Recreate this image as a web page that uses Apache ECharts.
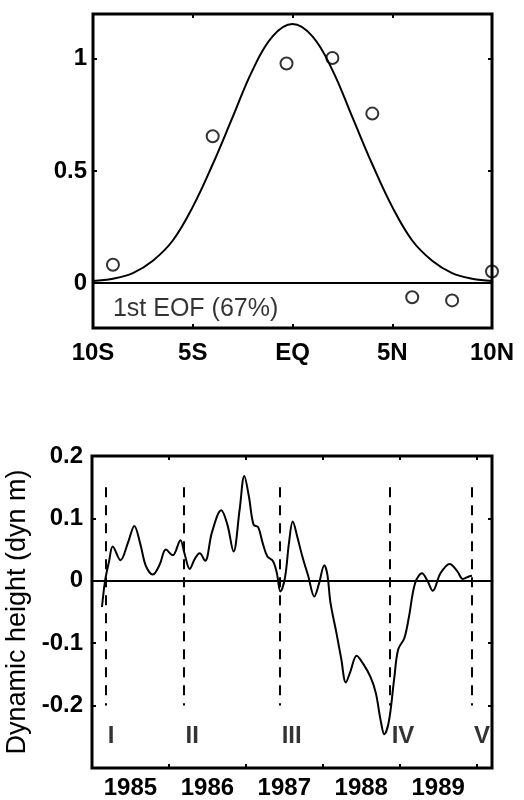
<!DOCTYPE html>
<html>
<head>
<meta charset="utf-8">
<script src="https://cdn.jsdelivr.net/npm/echarts@6/dist/echarts.min.js"></script>
<style>
  html, body { margin: 0; padding: 0; background: #fff; }
  #chart { width: 524px; height: 800px; }
</style>
</head>
<body>
<div id="chart"></div>
<script>
// top panel: meridional structure of the 1st EOF
const latTicks = [-10, -5, 0, 5, 10];
const latTickLabels = ['10S', '5S', 'EQ', '5N', '10N'];
const fitLat = [-10, -9, -8, -7, -6, -5, -4, -3, -2, -1, 0, 1, 2, 3, 4, 5, 6, 7, 8, 9, 10];
const fitEof = [0.01, 0.02, 0.045, 0.1, 0.19, 0.34, 0.53, 0.74, 0.95, 1.1, 1.155, 1.1, 0.95, 0.74, 0.53, 0.34, 0.19, 0.1, 0.045, 0.02, 0.01];
const stationLat = [-9, -4, -0.3, 2, 4, 6, 8, 10];
const stationEof = [0.082, 0.655, 0.979, 1.004, 0.756, -0.063, -0.077, 0.052];
const eofNote = '1st EOF (67%)';

// bottom panel: dynamic height time series
const years = [1985.13, 1985.17, 1985.22, 1985.27, 1985.37, 1985.47, 1985.55, 1985.63, 1985.70, 1985.79,
  1985.88, 1985.96, 1986.05, 1986.15, 1986.20, 1986.27, 1986.34, 1986.40, 1986.47, 1986.56,
  1986.68, 1986.76, 1986.84, 1986.92, 1986.98, 1987.04, 1987.10, 1987.16, 1987.22, 1987.28,
  1987.35, 1987.40, 1987.45, 1987.51, 1987.56, 1987.61, 1987.67, 1987.73, 1987.81, 1987.89,
  1987.95, 1988.02, 1988.06, 1988.10, 1988.18, 1988.24, 1988.30, 1988.36, 1988.44, 1988.52,
  1988.62, 1988.69, 1988.75, 1988.80, 1988.86, 1988.93, 1988.98, 1989.06, 1989.12, 1989.20,
  1989.29, 1989.36, 1989.43, 1989.53, 1989.65, 1989.75, 1989.82, 1989.90, 1989.94];
const dynHeight = [-0.042, 0.000, 0.030, 0.055, 0.033, 0.062, 0.088, 0.058, 0.024, 0.010,
  0.026, 0.050, 0.041, 0.065, 0.045, 0.019, 0.036, 0.044, 0.032, 0.078,
  0.113, 0.090, 0.047, 0.115, 0.168, 0.135, 0.090, 0.086, 0.060, 0.039,
  0.032, 0.014, -0.017, 0.006, 0.060, 0.095, 0.070, 0.041, 0.008, -0.025,
  -0.005, 0.025, 0.010, -0.035, -0.085, -0.125, -0.163, -0.145, -0.120, -0.132,
  -0.154, -0.180, -0.222, -0.246, -0.225, -0.155, -0.110, -0.092, -0.058, -0.004,
  0.012, 0.000, -0.016, 0.012, 0.027, 0.015, 0.003, 0.007, 0.008];
const eventYears = [1985.18, 1986.19, 1987.44, 1988.87, 1989.94];
const eventNames = ['I', 'II', 'III', 'IV', 'V'];
const yearTicks = [1986, 1987, 1988, 1989, 1990];
const yearLabelAt = [1985.5, 1986.5, 1987.5, 1988.5, 1989.5];
const dynTicks = [-0.2, -0.1, 0, 0.1, 0.2];

const FONT = 'Liberation Sans';
const tickLabel = { color: '#000', fontFamily: FONT, fontWeight: 'bold', fontSize: 24 };
const smallTick = { show: true, inside: true, length: 4, lineStyle: { color: '#000', width: 2 } };
const noLine = { show: false, onZero: false };

const chart = echarts.init(document.getElementById('chart'));

chart.setOption({
  animation: false,
  grid: [
    { left: 93, right: 32, top: 14, height: 314, show: true, borderColor: '#000', borderWidth: 3, outerBoundsMode: 'none' },
    { left: 92, right: 32, top: 456, height: 312, show: true, borderColor: '#000', borderWidth: 3, outerBoundsMode: 'none' }
  ],
  xAxis: [
    {
      gridIndex: 0, type: 'value', min: -10, max: 10, position: 'bottom',
      axisLine: noLine, splitLine: { show: false },
      axisTick: Object.assign({ customValues: [-5, 0, 5] }, smallTick),
      axisLabel: Object.assign({
        customValues: latTicks, margin: 13,
        formatter: v => latTickLabels[latTicks.indexOf(v)]
      }, tickLabel)
    },
    {
      gridIndex: 0, type: 'value', min: -10, max: 10, position: 'top',
      axisLine: noLine, splitLine: { show: false }, axisLabel: { show: false },
      axisTick: Object.assign({ customValues: [-5, 0, 5] }, smallTick)
    },
    {
      gridIndex: 1, type: 'value', min: 1985, max: 1990.2, position: 'bottom',
      axisLine: noLine, splitLine: { show: false },
      axisTick: Object.assign({ customValues: yearTicks }, smallTick),
      axisLabel: Object.assign({
        customValues: yearLabelAt, margin: 8,
        formatter: v => String(Math.floor(v))
      }, tickLabel)
    },
    {
      gridIndex: 1, type: 'value', min: 1985, max: 1990.2, position: 'top',
      axisLine: noLine, splitLine: { show: false }, axisLabel: { show: false },
      axisTick: Object.assign({ customValues: yearTicks }, smallTick)
    }
  ],
  yAxis: [
    {
      gridIndex: 0, type: 'value', min: -0.2, max: 1.2, position: 'left',
      axisLine: noLine, splitLine: { show: false },
      axisTick: Object.assign({ customValues: [0.5, 1] }, smallTick),
      axisLabel: Object.assign({ customValues: [0, 0.5, 1], margin: 6, formatter: v => String(v) }, tickLabel)
    },
    {
      gridIndex: 0, type: 'value', min: -0.2, max: 1.2, position: 'right',
      axisLine: noLine, splitLine: { show: false }, axisLabel: { show: false },
      axisTick: Object.assign({ customValues: [0.5, 1] }, smallTick)
    },
    {
      gridIndex: 1, type: 'value', min: -0.3, max: 0.2, position: 'left',
      axisLine: noLine, splitLine: { show: false },
      axisTick: Object.assign({ customValues: dynTicks }, smallTick),
      axisLabel: Object.assign({ customValues: dynTicks, margin: 9, formatter: v => String(Math.round(v * 10) / 10) }, tickLabel),
      name: 'Dynamic height (dyn m)', nameLocation: 'middle', nameGap: 53,
      nameTextStyle: { color: '#000', fontFamily: FONT, fontSize: 27 }
    },
    {
      gridIndex: 1, type: 'value', min: -0.3, max: 0.2, position: 'right',
      axisLine: noLine, splitLine: { show: false }, axisLabel: { show: false },
      axisTick: Object.assign({ customValues: dynTicks }, smallTick)
    }
  ],
  series: [
    {
      type: 'line', xAxisIndex: 0, yAxisIndex: 0, smooth: 0.4, showSymbol: false,
      data: fitLat.map((x, i) => [x, fitEof[i]]),
      lineStyle: { color: '#000', width: 2 },
      markLine: {
        silent: true, symbol: ['none', 'none'], label: { show: false },
        lineStyle: { color: '#000', width: 2, type: 'solid' },
        data: [{ yAxis: 0 }]
      }
    },
    {
      type: 'scatter', xAxisIndex: 0, yAxisIndex: 0, clip: false,
      symbol: 'circle', symbolSize: 12,
      itemStyle: { color: 'rgba(0,0,0,0)', borderColor: '#000', borderWidth: 2 },
      data: stationLat.map((x, i) => [x, stationEof[i]])
    },
    {
      type: 'scatter', xAxisIndex: 0, yAxisIndex: 0, symbolSize: 0, silent: true,
      data: [[-9, -0.115]],
      label: { show: true, position: 'right', distance: 0, formatter: eofNote, color: '#000', fontFamily: FONT, fontSize: 25 }
    },
    {
      type: 'line', xAxisIndex: 2, yAxisIndex: 2, smooth: 0.35, showSymbol: false,
      data: years.map((x, i) => [x, dynHeight[i]]),
      lineStyle: { color: '#000', width: 2 },
      markLine: {
        silent: true, symbol: ['none', 'none'], label: { show: false },
        data: [{ yAxis: 0, lineStyle: { color: '#000', width: 2, type: 'solid' } }].concat(
          eventYears.map(x => [
            { coord: [x, 0.15], lineStyle: { color: '#000', width: 2, type: [10, 8] } },
            { coord: [x, -0.2] }
          ]))
      }
    },
    {
      type: 'scatter', xAxisIndex: 2, yAxisIndex: 2, symbolSize: 0, silent: true,
      data: eventYears.map((x, i) => [x, -0.25, eventNames[i]]),
      label: {
        show: true, position: 'right', distance: 2,
        formatter: p => p.value[2],
        color: '#000', fontFamily: FONT, fontWeight: 'bold', fontSize: 24
      }
    }
  ]
});
</script>
</body>
</html>
